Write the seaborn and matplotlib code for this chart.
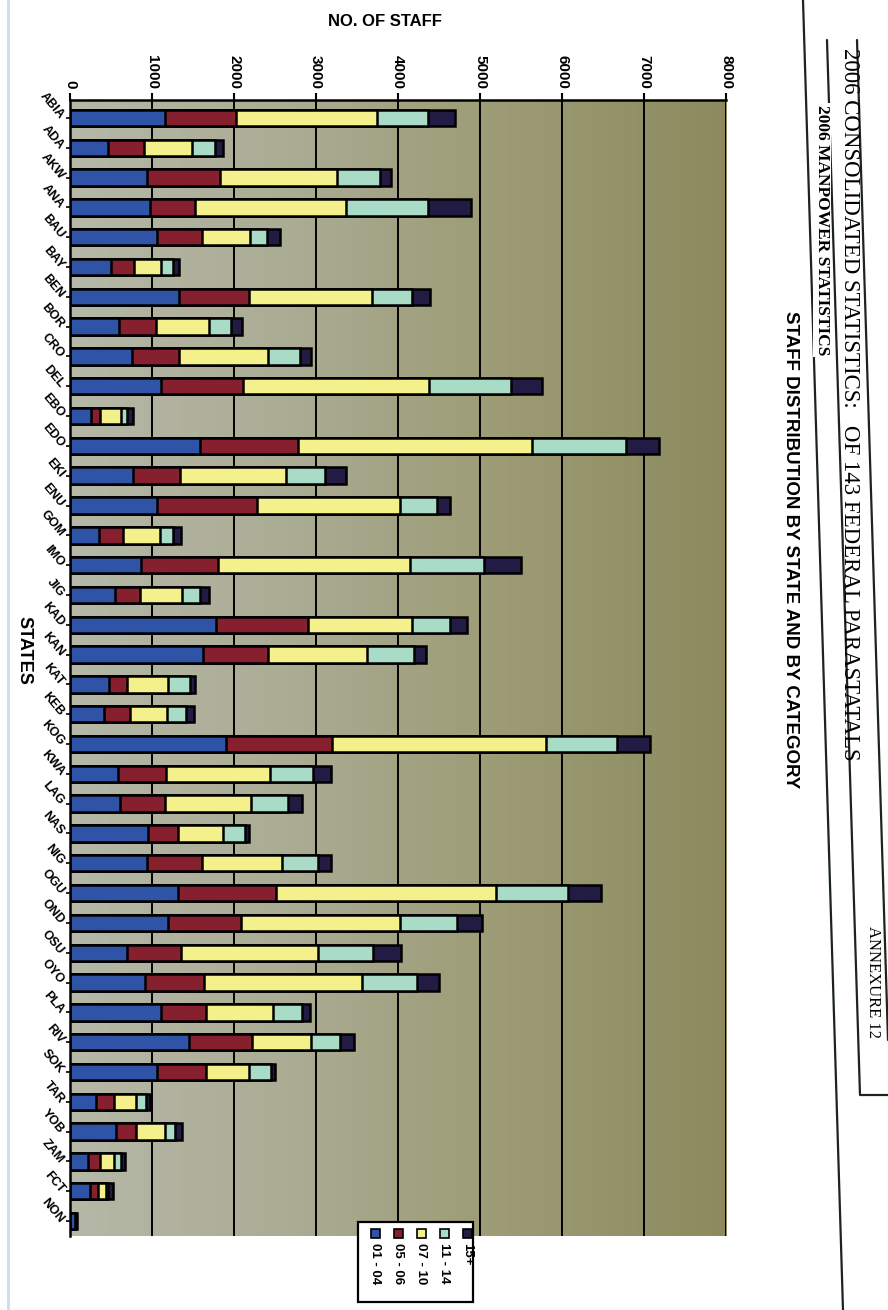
import matplotlib as mpl
mpl.use('Agg')
import matplotlib.pyplot as plt
from matplotlib.colors import LinearSegmentedColormap
from matplotlib.lines import Line2D
from matplotlib.patches import Rectangle
import numpy as np
import pandas as pd
import seaborn as sns

# data (staff per salary grade level, per state)
states = ['ABIA', 'ADA', 'AKW', 'ANA', 'BAU', 'BAY', 'BEN', 'BOR', 'CRO', 'DEL',
          'EBO', 'EDO', 'EKI', 'ENU', 'GOM', 'IMO', 'JIG', 'KAD', 'KAN', 'KAT',
          'KEB', 'KOG', 'KWA', 'LAG', 'NAS', 'NIG', 'OGU', 'OND', 'OSU', 'OYO',
          'PLA', 'RIV', 'SOK', 'TAR', 'YOB', 'ZAM', 'FCT', 'NON']
gl_01_04 = [1160, 460, 940, 970, 1060, 500, 1330, 600, 760, 1110, 250, 1580, 770, 1060,
            350, 860, 550, 1780, 1620, 470, 410, 1900, 580, 610, 950, 940, 1320, 1190,
            700, 920, 1110, 1450, 1060, 320, 560, 220, 240, 60]
gl_05_06 = [870, 440, 890, 550, 550, 280, 850, 450, 570, 1000, 120, 1200, 570, 1220,
            300, 950, 300, 1120, 800, 220, 320, 1290, 590, 550, 370, 670, 1190, 890,
            650, 720, 550, 770, 600, 220, 250, 150, 100, 0]
gl_07_10 = [1710, 590, 1420, 1840, 590, 330, 1500, 650, 1080, 2270, 250, 2860, 1300, 1740,
            450, 2340, 520, 1270, 1200, 500, 450, 2610, 1270, 1050, 550, 970, 2690, 1940,
            1670, 1920, 820, 720, 520, 270, 350, 170, 100, 0]
gl_11_14 = [630, 280, 530, 1000, 200, 140, 490, 260, 390, 1000, 70, 1140, 470, 450,
            150, 900, 220, 470, 570, 270, 230, 870, 520, 450, 270, 450, 870, 700,
            670, 670, 350, 350, 270, 120, 120, 80, 20, 0]
gl_15p = [330, 90, 140, 530, 160, 80, 220, 140, 140, 370, 80, 400, 250, 170,
          100, 450, 100, 200, 150, 70, 100, 400, 220, 170, 40, 150, 400, 300,
          350, 270, 100, 170, 50, 50, 80, 50, 70, 20]

cats = ['01 - 04', '05 - 06', '07 - 10', '11 - 14', '15+']
colors = ['#2f53a6', '#86202e', '#f4f08c', '#a8dcc6', '#221c44']

df = pd.DataFrame({'state': states, '01 - 04': gl_01_04, '05 - 06': gl_05_06,
                   '07 - 10': gl_07_10, '11 - 14': gl_11_14, '15+': gl_15p})
cum = df[cats].cumsum(axis=1)

sns.set_theme(style='white')
plt.rcParams['font.family'] = ['Liberation Sans', 'DejaVu Sans']
for k in ['text.color', 'xtick.color', 'ytick.color', 'axes.labelcolor']:
    plt.rcParams[k] = 'black'

W, H = 888, 1310
def fx(x):
    return x / W
def fy(y):
    return 1 - y / H

fig = plt.figure(figsize=(8.88, 13.10), dpi=100)
pos = [fx(70), fy(1236), fx(656), (1236 - 100) / H]

# plot-area background (grey-olive wall of the excel chart)
bg = fig.add_axes(pos, zorder=0)
wall = LinearSegmentedColormap.from_list('wall', ['#b6b8a8', '#aaac94', '#9c9b74', '#8c8a5e'])
bg.imshow(np.linspace(0, 1, 256)[None, :], cmap=wall, aspect='auto', extent=[0, 1, 0, 1])
bg.axis('off')

ax = fig.add_axes(pos, zorder=1)
ax.patch.set_alpha(0)

# stacked bars: draw cumulative totals from the outermost segment inwards
for cat, col in reversed(list(zip(cats, colors))):
    sns.barplot(x=cum[cat], y=df['state'], orient='y', color=col, saturation=1,
                width=0.55, edgecolor='black', linewidth=1.8, ax=ax)

ax.set_xlim(0, 8000)
ax.set_ylim(len(states) - 0.5, -0.6)
ax.set_axisbelow(True)
ax.grid(axis='x', color='black', linewidth=1.4)
ax.grid(axis='y', visible=False)

ax.xaxis.tick_top()
ax.set_xticks(range(0, 8001, 1000))
ax.set_xticklabels([str(v) for v in range(0, 8001, 1000)], fontsize=11, fontweight='bold')
plt.setp(ax.get_xticklabels(), rotation=-90, va='bottom', ha='center')
ax.tick_params(axis='x', top=True, bottom=False, length=5, width=1.5, color='black', pad=3)

ax.set_yticks(range(len(states)))
ax.set_yticklabels(states, fontsize=9, fontweight='bold')
plt.setp(ax.get_yticklabels(), rotation=-50, ha='right', va='center', rotation_mode='anchor')
ax.tick_params(axis='y', left=True, length=3, width=1.2, color='black', pad=3)
ax.set_xlabel('')
ax.set_ylabel('')

for s in ['right', 'bottom']:
    ax.spines[s].set_visible(False)
for s in ['top', 'left']:
    ax.spines[s].set_color('black')
    ax.spines[s].set_linewidth(1.8)

# axis titles
fig.text(fx(385), fy(22), 'NO. OF STAFF', ha='center', va='center', fontsize=12,
         fontweight='bold')
fig.text(fx(24), fy(650), 'STATES', ha='center', va='center', rotation=-90, fontsize=13,
         fontweight='bold')

# legend box
fig.patches.append(Rectangle((fx(358), fy(1302)), fx(115), 80 / H, transform=fig.transFigure,
                             facecolor='white', edgecolor='black', linewidth=1.6, zorder=2))
for x, cat, col in zip([375, 398, 421, 444, 467], cats, colors):
    fig.patches.append(Rectangle((fx(x - 4.5), fy(1238)), fx(9), 9 / H, transform=fig.transFigure,
                                 facecolor=col, edgecolor='black', linewidth=1.2, zorder=3))
    fig.text(fx(x), fy(1243), cat, rotation=-90, ha='center', va='top', fontsize=9.5,
             fontweight='bold', zorder=3)

# page header (page is scanned sideways)
for pts in [[(803, 0), (843, 1310)],
            [(827, 40), (860, 1095), (888, 1095)],
            [(857, 40), (888, 1040)]]:
    xs, ys = zip(*pts)
    fig.add_artist(Line2D([fx(v) for v in xs], [fy(v) for v in ys], color='#1c2420', linewidth=1.6))
fig.add_artist(Line2D([fx(8), fx(8)], [0, 1], color='#cfdcf0', linewidth=2))

fig.text(fx(849), fy(404), '2006 CONSOLIDATED STATISTICS:   OF 143 FEDERAL PARASTATALS',
         rotation=-90, ha='center', va='center', fontsize=16.5, family=['Liberation Serif', 'DejaVu Serif'])
fig.text(fx(822), fy(230), '2006 MANPOWER STATISTICS', rotation=-90, ha='center', va='center',
         fontsize=12.5, fontweight='bold', family=['Liberation Serif', 'DejaVu Serif'],
         bbox=dict(facecolor='white', edgecolor='none', pad=1))
fig.text(fx(790), fy(550), 'STAFF DISTRIBUTION BY STATE AND BY CATEGORY', rotation=-90,
         ha='center', va='center', fontsize=13.5, fontweight='bold')
fig.text(fx(873), fy(982), 'ANNEXURE 12', rotation=-90, ha='center', va='center',
         fontsize=12, family=['Liberation Serif', 'DejaVu Serif'])

fig.savefig('out.png', dpi=100)
